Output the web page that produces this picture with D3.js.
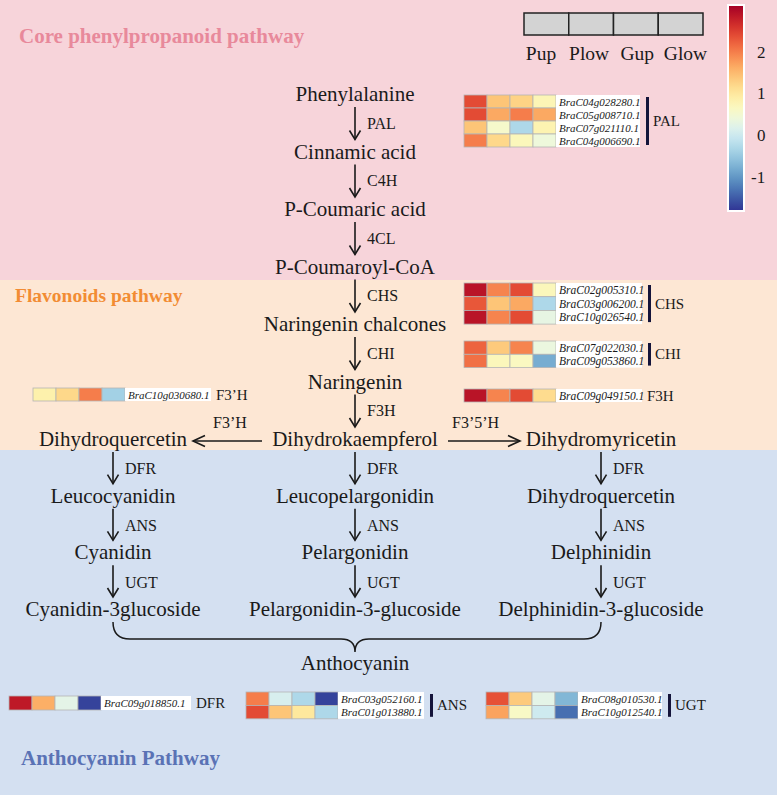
<!DOCTYPE html>
<html><head><meta charset="utf-8">
<script src="https://cdn.jsdelivr.net/npm/d3@7"></script>
<style>body{margin:0;background:#fff}svg{display:block}</style>
</head><body><svg id="c" width="777" height="799"></svg>
<script>
// ---------- DATA ----------
const samples = ["Pup", "Plow", "Gup", "Glow"];
const colorbarTicks = [2, 1, 0, -1];
const sectionTitles = ["Core phenylpropanoid pathway", "Flavonoids pathway", "Anthocyanin Pathway"];
const coreCompounds = ["Phenylalanine", "Cinnamic acid", "P-Coumaric acid", "P-Coumaroyl-CoA",
  "Naringenin chalcones", "Naringenin", "Dihydrokaempferol"];
const coreEnzymes = ["PAL", "C4H", "4CL", "CHS", "CHI", "F3H"];
const leftBranch = ["Dihydroquercetin", "Leucocyanidin", "Cyanidin", "Cyanidin-3glucoside"];
const centerBranch = ["Dihydrokaempferol", "Leucopelargonidin", "Pelargonidin", "Pelargonidin-3-glucoside"];
const rightBranch = ["Dihydromyricetin", "Dihydroquercetin", "Delphinidin", "Delphinidin-3-glucoside"];
const branchEnzymes = ["DFR", "ANS", "UGT"];
const sideEnzymes = ["F3\u2019H", "F3\u20195\u2019H"];
const finalProduct = "Anthocyanin";

const palGenes = ["BraC04g028280.1", "BraC05g008710.1", "BraC07g021110.1", "BraC04g006690.1"];
const palValues = [[2.4, 1.4, 1.25, 0.75], [2.4, 1.65, 2.0, 1.65], [1.4, 0.55, -0.3, 0.8], [2.0, 1.2, 0.7, 0.4]];
const chsGenes = ["BraC02g005310.1", "BraC03g006200.1", "BraC10g026540.1"];
const chsValues = [[2.9, 1.95, 2.4, 0.7], [2.3, 1.4, 1.65, -0.3], [2.9, 1.95, 2.4, 0.3]];
const chiGenes = ["BraC07g022030.1", "BraC09g053860.1"];
const chiValues = [[2.2, 1.35, 1.95, 0.35], [2.1, 0.7, 0.65, -0.8]];
const f3hGenes = ["BraC09g049150.1"];
const f3hValues = [[2.9, 1.95, 2.4, 1.15]];
const f3phGenes = ["BraC10g030680.1"];
const f3phValues = [[0.85, 1.2, 2.0, -0.4]];
const dfrGenes = ["BraC09g018850.1"];
const dfrValues = [[2.85, 1.6, 0.25, -1.7]];
const ansGenes = ["BraC03g052160.1", "BraC01g013880.1"];
const ansValues = [[2.0, 0.1, -0.3, -1.7], [2.4, 1.4, 1.0, -0.3]];
const ugtGenes = ["BraC08g010530.1", "BraC10g012540.1"];
const ugtValues = [[2.35, 1.35, 0.25, -0.7], [1.7, 0.6, 0.0, -1.35]];

// ---------- SETUP ----------
const svg = d3.select("#c");
const SERIF = "'Liberation Serif','Times New Roman',serif";
const ink = "#1a1a1a";
const vMin = -1.8, vMax = 3.1;
const color = d3.scaleSequential(t => d3.interpolateRdYlBu(1 - t)).domain([vMin, vMax]);

// backgrounds
const bands = [
  {y0: 0, y1: 280, fill: "#f7d4da", title: sectionTitles[0], tc: "#e8899b", tx: 19, ty: 43, fs: 21},
  {y0: 280, y1: 450, fill: "#fde7d4", title: sectionTitles[1], tc: "#f28c33", tx: 15, ty: 302, fs: 19.5},
  {y0: 450, y1: 795, fill: "#d4e0f1", title: sectionTitles[2], tc: "#5a72b5", tx: 21, ty: 765, fs: 21}
];
bands.forEach(b => {
  svg.append("rect").attr("x", 0).attr("y", b.y0).attr("width", 777).attr("height", b.y1 - b.y0).attr("fill", b.fill);
});
bands.forEach(b => {
  svg.append("text").attr("x", b.tx).attr("y", b.ty).text(b.title)
    .attr("font-family", SERIF).attr("font-weight", "bold").attr("font-size", b.fs).attr("fill", b.tc);
});

const FS = 21, EFS = 16;
function label(x, y, t, anchor) {
  svg.append("text").attr("x", x).attr("y", y + 6).attr("text-anchor", anchor || "middle")
    .attr("font-family", SERIF).attr("font-size", FS).attr("fill", ink).text(t);
}
function elabel(x, y, t, anchor) {
  svg.append("text").attr("x", x).attr("y", y + 5).attr("text-anchor", anchor || "start")
    .attr("font-family", SERIF).attr("font-size", EFS).attr("fill", ink).text(t);
}
function vArrow(x, y1, y2) {
  const g = svg.append("g").attr("stroke", ink).attr("stroke-width", 1.6).attr("fill", "none");
  g.append("line").attr("x1", x).attr("x2", x).attr("y1", y1).attr("y2", y2);
  g.append("path").attr("d", `M${x - 5.5},${y2 - 9}L${x},${y2}L${x + 5.5},${y2 - 9}`);
}
function hArrow(x1, x2, y) {
  const g = svg.append("g").attr("stroke", ink).attr("stroke-width", 1.6).attr("fill", "none");
  g.append("line").attr("x1", x1).attr("x2", x2).attr("y1", y).attr("y2", y);
  const d = x2 > x1 ? -1 : 1;
  g.append("path").attr("d", `M${x2 + d * 12},${y - 5.5}L${x2},${y}L${x2 + d * 12},${y + 5.5}`);
}

// ---------- CORE COLUMN ----------
const cx = 355;
const yCore = d3.scalePoint().domain(coreCompounds).range([95, 440]);
coreCompounds.forEach(c => label(cx, yCore(c), c));
coreEnzymes.forEach((e, i) => {
  const ya = yCore(coreCompounds[i]), yb = yCore(coreCompounds[i + 1]);
  vArrow(cx, ya + 12, yb - 13);
  elabel(cx + 12, (ya + yb) / 2, e);
});

// ---------- BRANCHES ----------
const colX = {left: 113, center: cx, right: 601};
const yBranch = d3.scalePoint().domain(d3.range(4)).range([440, 610]);
const branches = [["left", leftBranch], ["center", centerBranch], ["right", rightBranch]];
branches.forEach(([k, arr]) => {
  const x = colX[k];
  arr.forEach((c, i) => {
    if (k === "center" && i === 0) return;
    label(x, yBranch(i), c);
  });
  branchEnzymes.forEach((e, i) => {
    const ya = yBranch(i), yb = yBranch(i + 1);
    vArrow(x, ya + 12, yb - 13);
    elabel(x + 12, (ya + yb) / 2 + 1, e);
  });
});
// side arrows
hArrow(262, 193, 441);
hArrow(448, 520, 441);
elabel(213, 423, sideEnzymes[0]);
elabel(452, 423, sideEnzymes[1]);

// brace
const bL = colX.left, bR = colX.right, bY = 622;
svg.append("path").attr("fill", "none").attr("stroke", ink).attr("stroke-width", 1.5)
  .attr("d", `M${bL},${bY} Q${bL},${bY + 17} ${bL + 17},${bY + 17} L${cx - 14},${bY + 17} Q${cx},${bY + 17} ${cx},${bY + 30}
   Q${cx},${bY + 17} ${cx + 14},${bY + 17} L${bR - 17},${bY + 17} Q${bR},${bY + 17} ${bR},${bY}`);
label(cx, 664, finalProduct);

// ---------- HEATMAPS ----------
function heatmap(genes, values, o) {
  const cw = o.cw || 23, ch = o.ch || 13.5;
  const xs = d3.scaleBand().domain(samples).range([o.x, o.x + cw * 4]);
  const ys = d3.scaleBand().domain(genes).range([o.y, o.y + ch * genes.length]);
  const g = svg.append("g");
  genes.forEach((gn, r) => {
    samples.forEach((s, c) => {
      g.append("rect").attr("x", xs(s)).attr("y", ys(gn)).attr("width", xs.bandwidth()).attr("height", ys.bandwidth())
        .attr("fill", color(values[r][c])).attr("stroke", "#b5b5b5").attr("stroke-width", 0.8);
    });
  });
  const lx = o.x + cw * 4;
  g.append("rect").attr("x", lx).attr("y", o.y).attr("width", o.lw).attr("height", ch * genes.length).attr("fill", "#fff");
  genes.forEach(gn => {
    g.append("text").attr("x", lx + 3).attr("y", ys(gn) + ys.bandwidth() / 2 + 4)
      .attr("font-family", SERIF).attr("font-style", "italic").attr("font-size", o.gfs || 11).attr("fill", ink).text(gn);
  });
  let tx = lx + o.lw + 5;
  if (genes.length > 1) {
    g.append("rect").attr("x", lx + o.lw + 6).attr("y", o.y + 2).attr("width", 3).attr("height", ch * genes.length - 4).attr("fill", "#14143a");
    tx = lx + o.lw + 13;
  }
  g.append("text").attr("x", tx).attr("y", o.y + ch * genes.length / 2 + 5)
    .attr("font-family", SERIF).attr("font-size", 15).attr("fill", ink).text(o.name);
}
heatmap(palGenes, palValues, {x: 464, y: 95, ch: 13, lw: 84, name: "PAL"});
heatmap(chsGenes, chsValues, {x: 464, y: 283, ch: 13.7, lw: 86, gfs: 11.5, name: "CHS"});
heatmap(chiGenes, chiValues, {x: 464, y: 341, ch: 13.3, lw: 86, gfs: 11.5, name: "CHI"});
heatmap(f3hGenes, f3hValues, {x: 464, y: 389, ch: 13, lw: 86, gfs: 11.5, name: "F3H"});
heatmap(f3phGenes, f3phValues, {x: 33, y: 388, ch: 13, lw: 86, name: "F3\u2019H"});
heatmap(dfrGenes, dfrValues, {x: 9, y: 696, ch: 14, lw: 90, name: "DFR"});
heatmap(ansGenes, ansValues, {x: 246, y: 692, ch: 13.4, lw: 86, name: "ANS"});
heatmap(ugtGenes, ugtValues, {x: 486, y: 692, ch: 13.4, lw: 84, name: "UGT"});

// ---------- LEGEND ----------
const lgX = d3.scaleBand().domain(samples).range([524, 703]);
const lgLab = d3.scalePoint().domain(samples).range([541, 685.5]);
samples.forEach(s => {
  svg.append("rect").attr("x", lgX(s)).attr("y", 13).attr("width", lgX.bandwidth()).attr("height", 22)
    .attr("fill", "#d3d3d3").attr("stroke", "#222").attr("stroke-width", 1.5);
  svg.append("text").attr("x", lgLab(s)).attr("y", 60).attr("text-anchor", "middle")
    .attr("font-family", SERIF).attr("font-size", 19.5).attr("fill", ink).text(s);
});

// colorbar
const cbY = d3.scaleLinear().domain([vMax, vMin]).range([6, 210]);
const defs = svg.append("defs");
const grad = defs.append("linearGradient").attr("id", "cb").attr("x1", 0).attr("x2", 0).attr("y1", 0).attr("y2", 1);
d3.range(0, 1.001, 0.05).forEach(t => {
  grad.append("stop").attr("offset", t).attr("stop-color", color(vMax - t * (vMax - vMin)));
});
svg.append("rect").attr("x", 727).attr("y", 4).attr("width", 18).attr("height", 208).attr("fill", "#fff");
svg.append("rect").attr("x", 729).attr("y", 6).attr("width", 14).attr("height", 204).attr("fill", "url(#cb)");
colorbarTicks.forEach(t => {
  svg.append("text").attr("x", t < 0 ? 751 : 757).attr("y", cbY(t) + 6)
    .attr("font-family", SERIF).attr("font-size", 17).attr("fill", ink).text(t);
});
</script></body></html>
